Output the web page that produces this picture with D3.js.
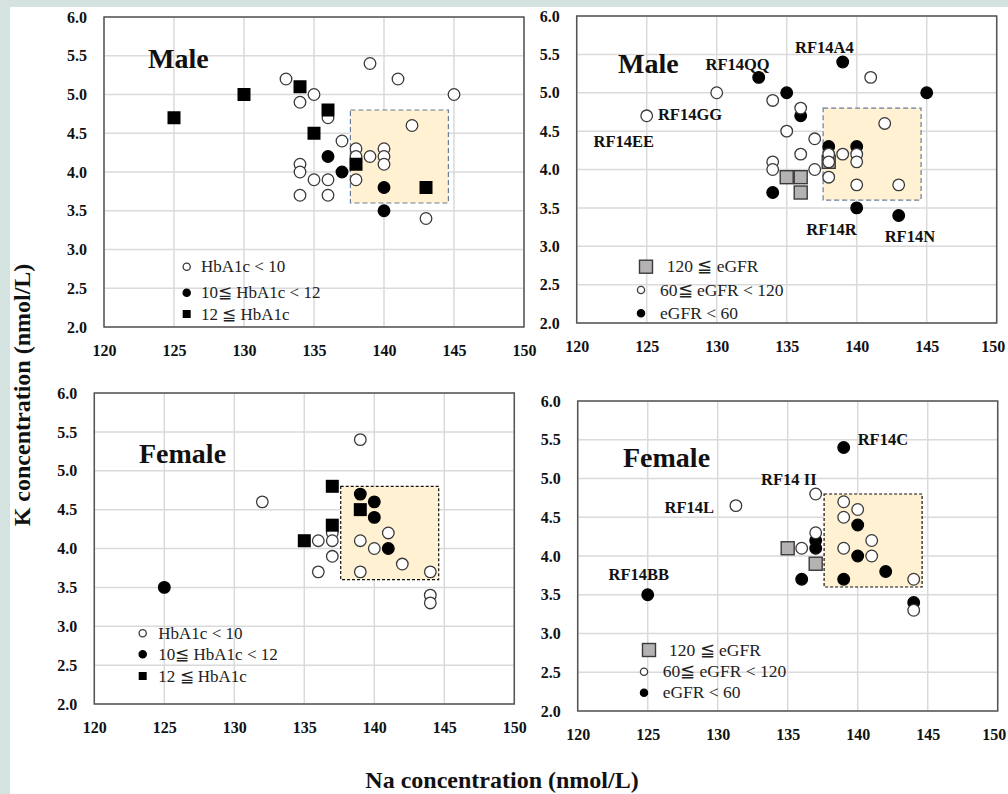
<!DOCTYPE html>
<html>
<head>
<meta charset="utf-8">
<script src="https://cdn.jsdelivr.net/npm/d3@7"></script>
<style>
  body { margin: 0; background: #fff; }
  svg { display: block; font-family: "Liberation Serif", "Times New Roman", serif; }
  svg text { font-family: "Liberation Serif", "Times New Roman", serif; }
</style>
</head>
<body>
<svg id="chart" width="1008" height="794"></svg>
<script>
// ---- axis ticks ----
const naTicks = [120, 125, 130, 135, 140, 145, 150];
const kTicks = [2.0, 2.5, 3.0, 3.5, 4.0, 4.5, 5.0, 5.5, 6.0];

// reference range (shaded box)
const naNormal = [137.6, 144.6];
const kNormal = [3.6, 4.8];

// ---- Male, grouped by HbA1c : [Na, K] ----
const maleA1cLow = [[133,5.2],[134,4.9],[134,4.1],[134,4.0],[134,3.7],[135,5.0],[136,4.7],[137,4.4],
  [135,3.9],[136,3.9],[136,3.7],[139,5.4],[141,5.2],[145,5.0],[142,4.6],[138,4.3],[138,4.2],
  [139,4.2],[140,4.3],[140,4.2],[140,4.1],[138,3.9],[143,3.4]];
const maleA1cMid = [[136,4.2],[137,4.0],[140,3.8],[140,3.5]];
const maleA1cHigh = [[125,4.7],[130,5.0],[134,5.1],[136,4.8],[135,4.5],[138,4.1],[143,3.8]];

// ---- Male, grouped by eGFR ----
const maleGfrHigh = [[135,3.9],[136,3.9],[136,3.7],[138,4.1]];
const maleGfrMid = [[130,5.0],[125,4.7],[134,4.9],[135,4.5],[134,4.1],[134,4.0],[141,5.2],[136,4.8],
  [137,4.4],[136,4.2],[138,4.2],[139,4.2],[140,4.2],[138,4.1],[140,4.1],[137,4.0],[138,3.9],
  [140,3.8],[143,3.8],[142,4.6]];
const maleGfrLow = [[133,5.2],[135,5.0],[139,5.4],[145,5.0],[136,4.7],[138,4.3],[140,4.3],[134,3.7],
  [140,3.5],[143,3.4]];
const maleIds = [["RF14QQ",129.2,5.30],["RF14GG",125.8,4.645],["RF14EE",121.2,4.29],
  ["RF14A4",135.6,5.52],["RF14R",136.4,3.15],["RF14N",142.0,3.06]];

// ---- Female, grouped by HbA1c ----
const femA1cLow = [[132,4.6],[139,5.4],[137,4.2],[137,4.1],[136,4.1],[139,4.1],[141,4.2],[140,4.0],
  [137,3.9],[142,3.8],[136,3.7],[139,3.7],[144,3.7],[144,3.4],[144,3.3]];
const femA1cMid = [[125,3.5],[139,4.7],[140,4.6],[140,4.4],[141,4.0]];
const femA1cHigh = [[137,4.8],[139,4.5],[137,4.3],[135,4.1]];

// ---- Female, grouped by eGFR ----
const femGfrHigh = [[135,4.1],[137,3.9]];
const femGfrMid = [[131.3,4.65],[137,4.8],[139,4.7],[140,4.6],[139,4.5],[137,4.3],[136,4.1],[141,4.2],
  [139,4.1],[141,4.0],[144,3.7],[144,3.3]];
const femGfrLow = [[125,3.5],[139,5.4],[140,4.4],[137,4.2],[137,4.1],[140,4.0],[142,3.8],[136,3.7],
  [139,3.7],[144,3.4]];
const femIds = [["RF14C",140.0,5.43],["RF14 II",133.1,4.92],["RF14L",126.2,4.55],["RF14BB",122.2,3.69]];

// ---- legend texts ----
const a1cLegend = ["HbA1c < 10", "10\u2266 HbA1c < 12", "12 \u2266 HbA1c"];
const gfrLegend = ["120 \u2266 eGFR", "60\u2266 eGFR < 120", "eGFR < 60"];

// ---- marker styles ----
const STYLE = {
  open:   { shape: "circle", fill: "#fff", stroke: "#3a3a3a" },
  filled: { shape: "circle", fill: "#000", stroke: "#000" },
  square: { shape: "square", fill: "#000", stroke: "#000" },
  gray:   { shape: "square", fill: "#b4b2b2", stroke: "#3a3a3a" }
};

// ---- panel layout ----
const panels = [
  { title: "Male", titlePos: [148, 68], x: [104, 524], y: [327, 17],
    boxStroke: "#6a7d9c", boxDash: "5,3",
    series: [[maleA1cLow, "open"], [maleA1cMid, "filled"], [maleA1cHigh, "square"]],
    ids: [],
    legend: { labels: a1cLegend, kinds: ["open", "filled", "square"],
      rows: [266.7, 292.7, 314], mx: [186.7, 186.7, 186.7], tx: [201, 201, 201], size: 17 } },
  { title: "Male", titlePos: [618, 73], x: [576.7, 996.7], y: [323, 16],
    boxStroke: "#6a7d9c", boxDash: "5,3",
    series: [[maleGfrHigh, "gray"], [maleGfrLow, "filled"], [maleGfrMid, "open"]],
    ids: maleIds,
    legend: { labels: gfrLegend, kinds: ["gray", "open", "filled"],
      rows: [266.7, 290, 313.3], mx: [646, 641, 641], tx: [666.7, 660, 660], size: 17.5 } },
  { title: "Female", titlePos: [139, 463], x: [94.3, 514.3], y: [704, 393],
    boxStroke: "#111", boxDash: "3,2",
    series: [[femA1cLow, "open"], [femA1cMid, "filled"], [femA1cHigh, "square"]],
    ids: [],
    legend: { labels: a1cLegend, kinds: ["open", "filled", "square"],
      rows: [633.3, 654.3, 676], mx: [142.7, 142.7, 142.7], tx: [158.3, 158.3, 158.3], size: 17 } },
  { title: "Female", titlePos: [623, 467], x: [577.7, 997.7], y: [711, 401],
    boxStroke: "#111", boxDash: "3,2",
    series: [[femGfrHigh, "gray"], [femGfrLow, "filled"], [femGfrMid, "open"]],
    ids: femIds,
    legend: { labels: gfrLegend, kinds: ["gray", "open", "filled"],
      rows: [650, 671.7, 692.7], mx: [649, 644, 644], tx: [669, 662.7, 662.7], size: 17.5 } }
];

const svg = d3.select("#chart");

// page background with tinted margin strip
svg.append("rect").attr("width", 1008).attr("height", 794).attr("fill", "#d4e2e0");
svg.append("rect").attr("x", 10).attr("y", 7).attr("width", 998).attr("height", 787).attr("fill", "#fff");

function drawMarker(g, kind, cx, cy, r, side) {
  const s = STYLE[kind];
  if (s.shape === "circle") {
    g.append("circle").attr("cx", cx).attr("cy", cy).attr("r", r)
      .attr("fill", s.fill).attr("stroke", s.stroke).attr("stroke-width", 1.3);
  } else {
    g.append("rect").attr("x", cx - side / 2).attr("y", cy - side / 2)
      .attr("width", side).attr("height", side)
      .attr("fill", s.fill).attr("stroke", s.stroke).attr("stroke-width", kind === "gray" ? 1.4 : 0);
  }
}

panels.forEach(p => {
  const x = d3.scaleLinear().domain([120, 150]).range(p.x);
  const y = d3.scaleLinear().domain([2, 6]).range(p.y);
  const g = svg.append("g");

  // grid
  g.append("g").selectAll("line").data(naTicks).join("line")
    .attr("x1", d => x(d)).attr("x2", d => x(d)).attr("y1", y(2)).attr("y2", y(6))
    .attr("stroke", "#dadada").attr("stroke-width", 1.5);
  g.append("g").selectAll("line").data(kTicks).join("line")
    .attr("x1", x(120)).attr("x2", x(150)).attr("y1", d => y(d)).attr("y2", d => y(d))
    .attr("stroke", "#dadada").attr("stroke-width", 1.5);

  // reference range box
  g.append("rect")
    .attr("x", x(naNormal[0])).attr("y", y(kNormal[1]))
    .attr("width", x(naNormal[1]) - x(naNormal[0])).attr("height", y(kNormal[0]) - y(kNormal[1]))
    .attr("fill", "#fff1d1").attr("stroke", p.boxStroke).attr("stroke-width", 1.2)
    .attr("stroke-dasharray", p.boxDash);

  // frame
  g.append("rect").attr("x", x(120)).attr("y", y(6))
    .attr("width", x(150) - x(120)).attr("height", y(2) - y(6))
    .attr("fill", "none").attr("stroke", "#555").attr("stroke-width", 1.5);

  // axes
  const ax = g.append("g").attr("transform", `translate(0,${y(2)})`)
    .call(d3.axisBottom(x).tickValues(naTicks).tickSize(0).tickPadding(18).tickFormat(d3.format("d")));
  const ay = g.append("g").attr("transform", `translate(${x(120)},0)`)
    .call(d3.axisLeft(y).tickValues(kTicks).tickSize(0).tickPadding(17).tickFormat(d3.format(".1f")));
  [ax, ay].forEach(a => {
    a.attr("font-family", null).attr("font-size", null);
    a.select(".domain").remove();
    a.selectAll("text").attr("font-size", 16).attr("font-weight", "bold").attr("fill", "#111");
  });
  // keep the last tick label inside the page edge
  ax.selectAll("text").filter(d => x(d) > 990).attr("dx", -4);

  // points
  p.series.forEach(([data, kind]) => {
    const sg = g.append("g");
    data.forEach(d => drawMarker(sg, kind, x(d[0]), y(d[1]), 5.8, 13));
  });

  // sample identifiers
  g.append("g").selectAll("text").data(p.ids).join("text")
    .attr("x", d => x(d[1])).attr("y", d => y(d[2]))
    .attr("font-size", 16.5).attr("font-weight", "bold").attr("fill", "#111")
    .text(d => d[0]);

  // panel title
  g.append("text").attr("x", p.titlePos[0]).attr("y", p.titlePos[1])
    .attr("font-size", 28).attr("font-weight", "bold").attr("fill", "#111").text(p.title);

  // legend
  const L = p.legend;
  L.labels.forEach((lab, i) => {
    const kind = L.kinds[i];
    const side = kind === "gray" ? 13 : 8;
    drawMarker(g, kind, L.mx[i], L.rows[i], 3.6, side);
    g.append("text").attr("x", L.tx[i]).attr("y", L.rows[i] + 5.5)
      .attr("font-size", L.size).attr("fill", "#222").text(lab);
  });
});

// shared axis titles
svg.append("text").attr("x", 502).attr("y", 788).attr("text-anchor", "middle")
  .attr("font-size", 24).attr("font-weight", "bold").attr("fill", "#111")
  .text("Na concentration (nmol/L)");
svg.append("text").attr("transform", "translate(30,395) rotate(-90)").attr("text-anchor", "middle")
  .attr("font-size", 24).attr("font-weight", "bold").attr("fill", "#111")
  .text("K concentration (nmol/L)");
</script>
</body>
</html>
